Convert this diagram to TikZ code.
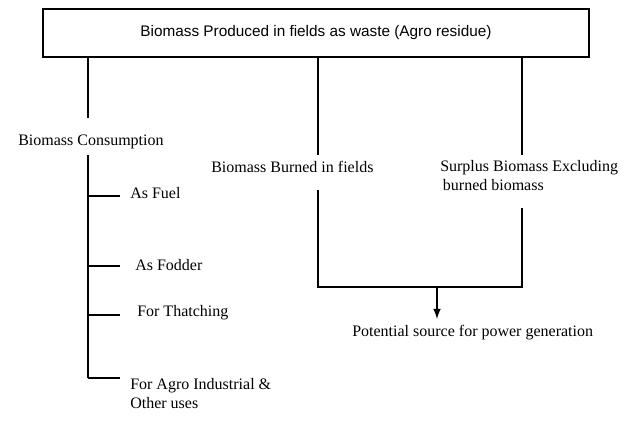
\documentclass[tikz,border=0pt]{standalone}
\usepackage{fontspec}
\setmainfont{Liberation Serif}
\newfontfamily\boxfont{Liberation Sans}
\usepackage{tikz}
\usetikzlibrary{positioning, calc, arrows}

\begin{document}
\begin{tikzpicture}[x=0.75pt, y=-0.75pt]
		\tikzstyle{wastebox}=[draw=black, line width=1.2pt, minimum width=409.5pt, minimum height=36pt, font=\boxfont\fontsize{11.5}{13}\selectfont]
		\tikzstyle{lbl}=[anchor=west, inner sep=0pt, align=left, font=\fontsize{12}{14.5}\selectfont]
		\tikzstyle{link}=[draw=black, line width=0.9pt]
		\tikzstyle{outlink}=[draw=black, line width=1.6pt, -latex]
		
		\useasboundingbox (0,0) rectangle (629,421);
		
		\node[wastebox] (W) at (316,33) {Biomass Produced in fields as waste (Agro residue)};
		
		%% three columns below the box
		\node[lbl] (C) at (18,142) {Biomass Consumption};
		\node[lbl] (B) at (211,167) {Biomass Burned in fields};
		\node[lbl, anchor=north west] (S) at (440,160) {Surplus Biomass Excluding\\\,burned biomass};
		\node[lbl] (P) at (352,333) {Potential source for power generation};
		
		\coordinate (Cup) at (88,118);
		\coordinate (Bup) at (318,155);
		\coordinate (Sup) at (522,155);
		\draw[link] (W.south -| Cup) -- (Cup);
		\draw[link] (W.south -| Bup) -- (Bup);
		\draw[link] (W.south -| Sup) -- (Sup);
		
		%% uses of the consumed part
		\node[lbl] (fuel) at (130,193) {As Fuel};
		\node[lbl] (fodder) at (135,265) {As Fodder};
		\node[lbl] (thatch) at (137,313) {For Thatching};
		\node[lbl, anchor=north west] (agro) at (130,378) {For Agro Industrial \&\\Other uses};
		
		\coordinate (T0) at (88,155);
		\coordinate (T4) at (88,378);
		\draw[link] (T0) -- (T4);
		\draw[link] (T0 |- 0,196) -- ++(32,0);
		\draw[link] (T0 |- 0,266) -- ++(32,0);
		\draw[link] (T0 |- 0,315) -- ++(32,0);
		\draw[link] (T4) -- ++(32,0);
		
		%% burned + surplus joined
		\coordinate (Bdown) at (318,190);
		\coordinate (Sdown) at (522,208);
		\coordinate (Mid) at (437,287);
		\coordinate (tip) at (437,319);
		\draw[link] (Bdown) -- (Bdown |- Mid) -- (Sdown |- Mid) -- (Sdown);
		\draw[outlink] (Mid) -- (tip);
		
\end{tikzpicture}
\end{document}
